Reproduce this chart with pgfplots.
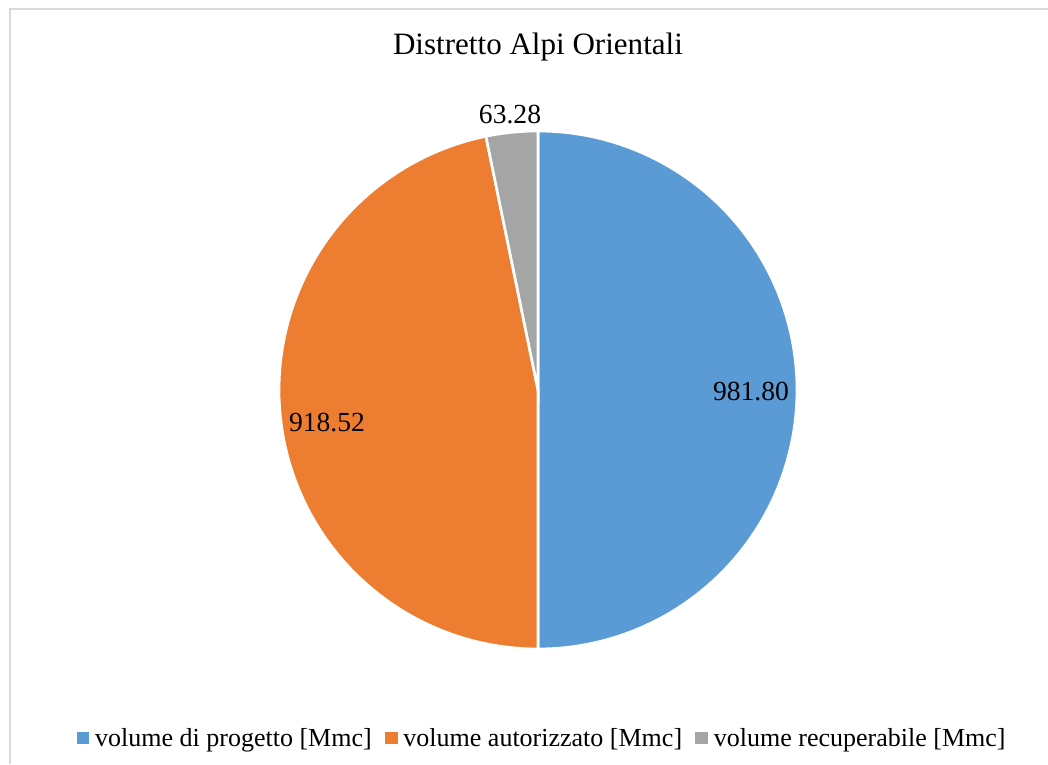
\documentclass[border=0pt]{standalone}
\usepackage{pgfplots}
\usepackage{pgfplotstable}
\pgfplotsset{compat=1.18}
\usepackage{fontspec}
\setmainfont{Liberation Serif}
\definecolor{cblue}{HTML}{5B9BD5}
\definecolor{corange}{HTML}{ED7D31}
\definecolor{cgray}{HTML}{A5A5A5}
\definecolor{cborder}{HTML}{D9D9D9}
\pgfplotstableread{
label value
progetto 981.80
autorizzato 918.52
recuperabile 63.28
}\piedata
\begin{document}
\begin{tikzpicture}[x=0.75pt,y=0.75pt]
\pgfplotstablegetelem{0}{value}\of\piedata \let\va\pgfplotsretval
\pgfplotstablegetelem{1}{value}\of\piedata \let\vb\pgfplotsretval
\pgfplotstablegetelem{2}{value}\of\piedata \let\vc\pgfplotsretval
\pgfmathsetmacro\tot{\va+\vb+\vc}
\pgfmathsetmacro\fa{\va/\tot}
\pgfmathsetmacro\fb{\vb/\tot}
\pgfmathsetmacro\fc{\vc/\tot}
\pgfmathsetmacro\aA{90}
\pgfmathsetmacro\aB{90-360*\fa}
\pgfmathsetmacro\aC{\aB-360*\fb}
\pgfmathsetmacro\aD{\aC-360*\fc}
\begin{axis}[
  scale only axis, width=786pt, height=573pt,
  xmin=0, xmax=1048, ymin=0, ymax=764,
  hide axis, clip=false,
  legend columns=3,
  legend style={draw=none, fill=none, at={(axis cs:542.5,26)}, anchor=center,
    font=\fontsize{19.5}{22}\selectfont,
    /tikz/every even column/.append style={column sep=8pt},
    legend cell align=left},
]
\draw[cborder, line width=1.5pt] (axis cs:9.5,0) -- (axis cs:9.5,754.5) -- (axis cs:1048,754.5);
\addplot[fill=cblue, draw=white, line width=2pt, domain=\aB:\aA, samples=150,
  legend image code/.code={\fill[cblue] (0pt,-3.75pt) rectangle (7.5pt,3.75pt);\path (9.8pt,0pt);}]
  ({538+259*cos(x)},{374+259*sin(x)}) -- (axis cs:538,374) -- cycle;
\addlegendentry{volume di progetto [Mmc]}
\addplot[fill=corange, draw=white, line width=2pt, domain=\aC:\aB, samples=150,
  legend image code/.code={\fill[corange] (0pt,-3.75pt) rectangle (7.5pt,3.75pt);\path (9.8pt,0pt);}]
  ({538+259*cos(x)},{374+259*sin(x)}) -- (axis cs:538,374) -- cycle;
\addlegendentry{volume autorizzato [Mmc]}
\addplot[fill=cgray, draw=white, line width=2pt, domain=\aD:\aC, samples=30,
  legend image code/.code={\fill[cgray] (0pt,-3.75pt) rectangle (7.5pt,3.75pt);\path (9.8pt,0pt);}]
  ({538+259*cos(x)},{374+259*sin(x)}) -- (axis cs:538,374) -- cycle;
\addlegendentry{volume recuperabile [Mmc]}
\node[font=\fontsize{23.3}{28}\selectfont] at (axis cs:538,717) {Distretto Alpi Orientali};
\node[font=\fontsize{20.7}{24}\selectfont] at (axis cs:751,372) {981.80};
\node[font=\fontsize{20.7}{24}\selectfont] at (axis cs:327,341) {918.52};
\node[font=\fontsize{20.7}{24}\selectfont] at (axis cs:510,649) {63.28};
\end{axis}
\pgfresetboundingbox
\path (0pt,0pt) rectangle (786pt,573pt);
\end{tikzpicture}
\end{document}
